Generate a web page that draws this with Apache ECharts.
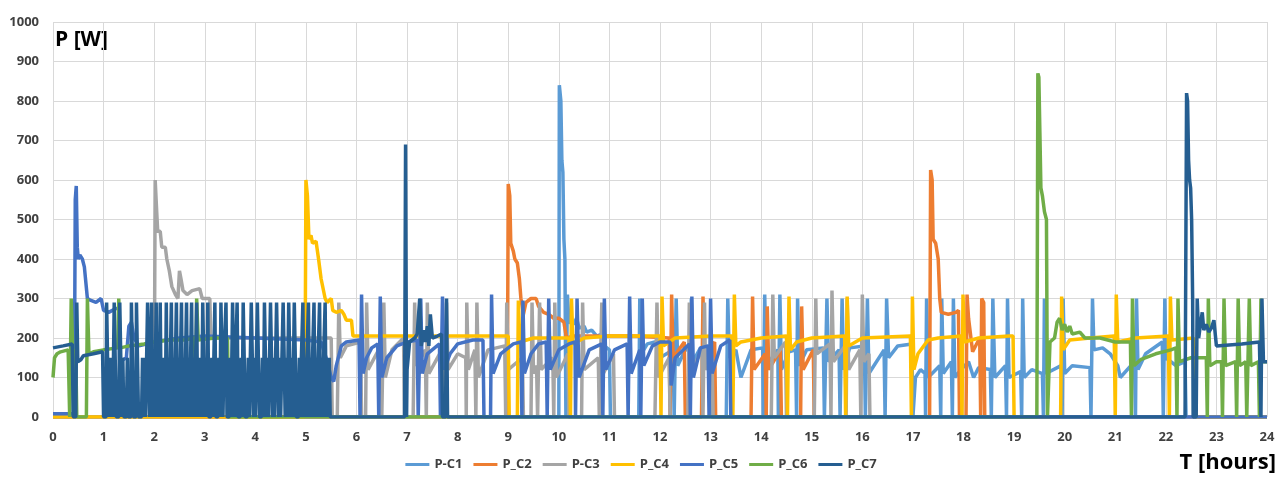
<!DOCTYPE html>
<html>
<head>
<meta charset="utf-8">
<script src="https://cdn.jsdelivr.net/npm/echarts@6/dist/echarts.min.js"></script>
<style>
  html, body { margin: 0; padding: 0; background: #fff; }
  #chart { width: 1282px; height: 481px; }
</style>
</head>
<body>
<div id="chart"></div>
<script>
// [time in hours, power in W] for each circuit
const pC1 = [[0,0],[10.0,0],[10.01,840],[10.04,800],[10.06,650],[10.08,620],[10.1,450],[10.12,400],[10.14,0],[10.16,0],[10.17,310],[10.2,240],[10.3,235],[10.35,250],[10.4,225],[10.5,230],[10.55,215],[10.65,220],[10.75,205],[10.85,210],[10.9,180],[11.0,170],[11.02,0],[11.58,0],[11.6,300],[11.63,160],[11.75,185],[11.9,190],[12.0,150],[12.26,170],[12.28,0],[12.32,300],[12.35,130],[12.5,170],[12.57,170],[12.58,0],[12.62,300],[12.65,140],[12.8,175],[13.0,180],[13.02,0],[13.31,0],[13.34,300],[13.37,150],[13.5,170],[13.6,100],[13.8,170],[14.03,175],[14.04,0],[14.07,310],[14.1,130],[14.33,170],[14.34,0],[14.37,310],[14.4,120],[14.55,165],[14.68,170],[14.7,0],[14.72,300],[14.75,130],[14.9,170],[15.23,175],[15.25,0],[15.3,300],[15.33,140],[15.54,170],[15.56,0],[15.6,300],[15.63,120],[15.75,175],[16.04,180],[16.06,0],[16.1,300],[16.13,110],[16.43,170],[16.45,0],[16.48,300],[16.52,150],[16.7,180],[16.98,185],[17.0,0],[17.05,100],[17.15,120],[17.24,110],[17.25,0],[17.27,300],[17.3,100],[17.53,130],[17.55,0],[17.57,300],[17.6,110],[17.76,140],[17.78,0],[17.8,300],[17.83,100],[17.95,120],[18.1,140],[18.2,100],[18.3,125],[18.53,120],[18.55,0],[18.58,300],[18.62,100],[18.83,130],[18.85,0],[18.87,300],[18.9,100],[19.13,115],[19.15,0],[19.17,300],[19.2,100],[19.35,120],[19.56,110],[19.58,0],[19.6,300],[19.63,110],[19.93,130],[19.95,0],[19.97,300],[20.0,110],[20.15,130],[20.5,125],[20.52,0],[20.55,300],[20.58,170],[20.75,175],[20.9,160],[21.05,130],[21.1,100],[21.38,140],[21.4,0],[21.42,300],[21.45,120],[21.6,160],[21.93,190],[21.95,0],[21.98,300],[22.0,150],[22.2,130],[22.38,140],[22.4,0],[24,0]];

const pC2 = [[0,0],[8.98,0],[9.0,590],[9.03,560],[9.05,440],[9.1,420],[9.13,400],[9.18,390],[9.22,350],[9.25,300],[9.3,260],[9.35,290],[9.45,300],[9.55,300],[9.6,280],[9.7,265],[9.8,260],[9.9,250],[10.0,250],[10.1,240],[10.15,200],[10.3,205],[11.0,205],[11.5,205],[12.18,200],[12.2,0],[12.23,310],[12.26,150],[12.48,190],[12.5,0],[12.82,0],[12.85,305],[12.88,150],[13.08,190],[13.1,0],[13.8,0],[13.83,305],[13.86,120],[14.08,160],[14.1,0],[14.12,280],[14.15,120],[14.38,170],[14.4,0],[14.78,0],[14.8,280],[14.83,120],[15.03,170],[15.05,0],[17.33,0],[17.35,625],[17.38,600],[17.4,450],[17.45,440],[17.5,400],[17.53,300],[17.56,265],[17.7,260],[17.85,265],[17.9,270],[17.92,0],[18.05,0],[18.07,310],[18.1,250],[18.18,165],[18.32,200],[18.34,0],[18.36,300],[18.4,290],[18.42,0],[24,0]];

const pC3 = [[0,0],[2.0,0],[2.02,600],[2.05,520],[2.07,470],[2.12,470],[2.15,430],[2.22,430],[2.25,400],[2.3,370],[2.35,330],[2.42,310],[2.47,300],[2.5,370],[2.53,350],[2.57,320],[2.65,310],[2.75,320],[2.9,325],[2.95,300],[3.1,300],[3.12,200],[4.0,200],[5.0,200],[5.5,200],[5.52,0],[5.62,0],[5.65,290],[5.68,150],[5.8,180],[6.08,190],[6.1,0],[6.18,0],[6.2,290],[6.23,120],[6.48,180],[6.5,0],[6.54,290],[6.57,100],[6.7,170],[6.93,200],[6.95,0],[7.12,0],[7.15,290],[7.18,130],[7.36,170],[7.38,0],[7.4,290],[7.43,110],[7.73,180],[7.75,0],[7.78,290],[7.81,120],[8.0,160],[8.16,150],[8.17,0],[8.18,290],[8.21,120],[8.34,170],[8.36,0],[8.38,290],[8.41,100],[8.6,170],[8.93,180],[8.95,0],[8.97,290],[9.0,120],[9.28,150],[9.3,0],[9.45,0],[9.47,290],[9.5,110],[9.56,130],[9.58,0],[9.62,290],[9.65,120],[9.88,150],[9.9,0],[9.92,290],[9.95,100],[10.18,160],[10.2,0],[10.45,0],[10.47,290],[10.5,120],[10.78,150],[10.8,0],[10.83,0],[10.85,290],[10.88,110],[11.08,160],[11.1,0],[11.9,0],[11.94,290],[11.97,100],[12.18,150],[12.2,0],[12.55,0],[12.58,290],[12.6,110],[12.83,170],[12.85,0],[12.88,290],[12.9,120],[13.03,150],[13.05,0],[14.2,0],[14.23,310],[14.26,150],[14.48,190],[14.5,0],[15.05,0],[15.08,300],[15.1,160],[15.36,185],[15.38,0],[15.4,320],[15.43,140],[15.66,180],[15.68,0],[15.7,300],[15.73,120],[15.95,170],[15.97,0],[16.0,310],[16.03,140],[16.13,160],[16.15,0],[24,0]];

const pC4 = [[0,0],[4.97,0],[4.99,300],[5.0,600],[5.03,560],[5.06,450],[5.1,460],[5.13,440],[5.2,445],[5.25,400],[5.3,350],[5.38,300],[5.42,290],[5.5,300],[5.53,270],[5.6,265],[5.7,270],[5.75,260],[5.8,245],[5.9,245],[5.93,205],[6.5,205],[7.0,205],[8.0,205],[9.0,205],[9.02,0],[9.18,0],[9.2,295],[9.23,190],[9.5,200],[10.2,200],[10.23,0],[10.25,300],[10.28,185],[10.5,200],[11.0,205],[12.0,205],[12.02,0],[12.04,305],[12.07,180],[12.3,200],[13.0,205],[13.42,205],[13.44,0],[13.47,310],[13.5,180],[13.6,190],[14.0,200],[14.5,205],[14.52,0],[14.55,305],[14.58,170],[14.7,190],[15.0,200],[15.65,205],[15.67,0],[15.7,305],[15.73,180],[16.0,200],[16.95,205],[16.97,0],[16.99,305],[17.02,120],[17.1,160],[17.3,195],[17.5,200],[17.95,205],[17.97,0],[17.99,310],[18.02,190],[18.3,200],[18.9,205],[18.98,205],[19.0,0],[19.92,0],[19.94,305],[19.97,170],[20.1,195],[20.5,200],[20.98,205],[21.0,0],[21.02,310],[21.05,190],[21.4,200],[22.05,205],[22.07,0],[22.09,305],[22.12,195],[22.55,200],[22.6,0],[24,0]];

const pC5 = [[0,8],[0.4,8],[0.42,0],[0.44,550],[0.46,585],[0.48,430],[0.5,400],[0.53,410],[0.58,400],[0.62,380],[0.68,300],[0.75,295],[0.85,290],[0.95,300],[1.0,270],[1.1,265],[1.25,275],[1.3,275],[1.32,140],[1.45,150],[1.5,230],[1.55,240],[1.6,200],[1.7,180],[2.0,190],[2.5,200],[3.0,205],[4.0,200],[5.0,195],[5.3,190],[5.4,150],[5.5,100],[5.55,90],[5.6,130],[5.7,180],[5.8,190],[6.05,195],[6.07,0],[6.1,310],[6.13,110],[6.2,150],[6.3,175],[6.42,185],[6.44,0],[6.47,305],[6.5,100],[6.6,150],[6.8,180],[7.0,190],[7.2,195],[7.22,0],[7.27,300],[7.3,110],[7.4,160],[7.64,185],[7.66,0],[7.7,305],[7.73,120],[7.85,160],[8.0,185],[8.3,195],[8.5,195],[8.52,0],[8.65,0],[8.67,310],[8.7,110],[8.85,160],[9.1,185],[9.25,190],[9.27,0],[9.29,295],[9.32,110],[9.45,160],[9.6,185],[9.75,190],[9.77,0],[9.8,300],[9.83,120],[10.0,170],[10.2,185],[10.32,190],[10.33,0],[10.36,300],[10.4,100],[10.6,170],[10.85,185],[10.87,0],[10.9,300],[10.93,120],[11.1,170],[11.35,185],[11.37,0],[11.4,305],[11.43,110],[11.6,170],[11.62,0],[11.65,300],[11.68,130],[11.85,180],[12.0,190],[12.2,190],[12.22,80],[12.3,150],[12.58,185],[12.6,0],[12.63,305],[12.66,100],[12.8,175],[12.95,180],[12.97,0],[13.0,300],[13.03,110],[13.2,180],[13.38,195],[13.4,0],[24,0]];

const pC6 = [[0,100],[0.03,150],[0.08,160],[0.15,165],[0.3,170],[0.33,0],[0.35,0],[0.36,300],[0.39,170],[0.45,165],[0.47,0],[0.66,0],[0.68,300],[0.71,160],[0.8,165],[1.0,170],[1.28,175],[1.3,300],[1.33,175],[1.5,180],[1.8,185],[2.0,190],[2.3,195],[2.6,195],[2.8,200],[2.82,0],[2.84,300],[2.87,195],[3.2,200],[3.45,200],[3.47,0],[19.45,0],[19.47,870],[19.49,860],[19.51,720],[19.53,580],[19.56,560],[19.6,520],[19.64,500],[19.66,0],[19.69,0],[19.71,190],[19.8,200],[19.85,240],[19.9,250],[19.95,220],[20.0,235],[20.05,215],[20.1,230],[20.15,210],[20.3,215],[20.4,200],[20.7,200],[21.0,190],[21.3,190],[21.32,0],[21.34,300],[21.37,130],[21.5,145],[21.8,160],[22.1,170],[22.2,175],[22.22,0],[22.24,300],[22.27,140],[22.5,150],[22.8,150],[22.82,0],[22.84,300],[22.87,130],[23.0,140],[23.1,140],[23.12,0],[23.15,300],[23.18,130],[23.38,140],[23.4,0],[23.43,300],[23.46,130],[23.58,140],[23.6,0],[23.65,300],[23.68,130],[23.83,140],[23.85,0],[23.88,300],[23.91,140],[24,140]];

const pC7 = [[0,175],[0.2,180],[0.38,185],[0.4,0],[0.45,0],[0.47,290],[0.49,140],[0.55,145],[0.6,155],[0.8,160],[0.98,165],[1.0,0],[1.05,0],[1.06,290],[1.08,140],[1.1,0],[1.12,150],[1.14,0],[1.16,150],[1.18,0],[1.21,290],[1.23,145],[1.25,0],[1.3,0],[1.32,290],[1.34,150],[1.36,0],[1.38,150],[1.4,0],[1.45,0],[1.47,150],[1.49,0],[1.54,0],[1.55,290],[1.57,150],[1.59,0],[1.64,0],[1.65,290],[1.67,150],[1.69,0],[1.75,0],[1.77,150],[1.79,0],[1.81,150],[1.83,0],[1.87,290],[1.89,140],[1.91,0],[1.93,150],[1.95,290],[1.97,0],[1.99,150],[2.01,0],[2.04,290],[2.06,0],[2.08,150],[2.1,0],[2.12,290],[2.14,0],[2.16,150],[2.18,0],[2.2,150],[2.22,0],[2.24,290],[2.26,0],[2.28,150],[2.3,0],[2.32,150],[2.34,290],[2.36,0],[2.38,150],[2.4,0],[2.42,150],[2.44,290],[2.46,0],[2.48,150],[2.5,0],[2.52,150],[2.54,290],[2.56,0],[2.58,150],[2.6,0],[2.62,150],[2.64,290],[2.66,0],[2.68,150],[2.7,0],[2.72,150],[2.74,290],[2.76,0],[2.78,150],[2.8,0],[2.82,150],[2.84,290],[2.86,0],[2.88,150],[2.9,0],[2.92,150],[2.94,0],[2.96,290],[2.98,150],[3.0,0],[3.02,150],[3.04,0],[3.06,290],[3.08,0],[3.12,0],[3.14,150],[3.16,0],[3.18,150],[3.2,290],[3.22,0],[3.26,0],[3.28,150],[3.3,0],[3.32,290],[3.34,150],[3.36,0],[3.38,150],[3.42,290],[3.44,0],[3.48,0],[3.5,150],[3.52,0],[3.55,290],[3.57,150],[3.59,0],[3.61,150],[3.64,290],[3.66,0],[3.7,0],[3.72,150],[3.74,0],[3.76,290],[3.78,150],[3.8,0],[3.84,0],[3.86,150],[3.88,0],[3.92,290],[3.94,150],[3.96,0],[3.98,150],[4.0,0],[4.04,290],[4.06,150],[4.08,0],[4.12,0],[4.14,150],[4.16,0],[4.18,290],[4.2,150],[4.22,0],[4.24,150],[4.26,0],[4.3,290],[4.32,150],[4.34,0],[4.36,150],[4.38,0],[4.42,290],[4.44,150],[4.46,0],[4.48,150],[4.5,0],[4.55,290],[4.57,150],[4.59,0],[4.61,150],[4.63,0],[4.66,290],[4.68,150],[4.7,0],[4.72,150],[4.74,0],[4.77,290],[4.79,150],[4.81,0],[4.85,0],[4.87,150],[4.89,0],[4.91,150],[4.94,290],[4.96,0],[4.98,150],[5.0,0],[5.02,150],[5.05,290],[5.07,0],[5.09,150],[5.11,0],[5.13,150],[5.16,290],[5.18,0],[5.2,150],[5.22,0],[5.24,150],[5.27,290],[5.29,0],[5.31,150],[5.33,0],[5.35,150],[5.38,290],[5.4,0],[5.42,150],[5.44,0],[5.46,150],[5.48,0],[6.95,0],[6.97,690],[6.99,0],[7.0,120],[7.05,190],[7.15,200],[7.2,210],[7.25,300],[7.28,180],[7.33,220],[7.36,190],[7.4,230],[7.43,180],[7.46,260],[7.5,200],[7.6,205],[7.68,210],[7.7,0],[7.76,0],[7.78,300],[7.8,0],[22.38,0],[22.41,820],[22.43,800],[22.45,650],[22.47,600],[22.49,580],[22.51,500],[22.53,300],[22.54,0],[22.6,0],[22.62,300],[22.65,200],[22.68,230],[22.72,265],[22.75,220],[22.8,235],[22.85,215],[22.9,225],[22.95,245],[23.0,180],[23.5,185],[23.85,190],[23.88,0],[23.9,300],[23.93,140],[24,140]];

const names = ['P-C1', 'P_C2', 'P-C3', 'P_C4', 'P_C5', 'P_C6', 'P_C7'];
const seriesData = [pC1, pC2, pC3, pC4, pC5, pC6, pC7];
const COLORS = ['#5b9bd5', '#ed7d31', '#a5a5a5', '#ffc000', '#4472c4', '#70ad47', '#255e91'];

const xTicks = { min: 0, max: 24, step: 1 };
const yTicks = { min: 0, max: 1000, step: 100 };

const chart = echarts.init(document.getElementById('chart'));
const labelStyle = { color: '#404040', fontSize: 13, fontWeight: 'bold', fontFamily: 'Open Sans' };

chart.setOption({
  backgroundColor: '#fff',
  animation: false,
  color: COLORS,
  grid: { left: 53, right: 15, top: 22, bottom: 64 },
  legend: {
    data: names,
    bottom: 5,
    left: 'center',
    icon: 'rect',
    itemWidth: 24,
    itemHeight: 3,
    itemGap: 11,
    textStyle: { color: '#404040', fontSize: 13, fontWeight: 'bold', fontFamily: 'Open Sans' },
  },
  xAxis: {
    type: 'value',
    min: xTicks.min,
    max: xTicks.max,
    interval: xTicks.step,
    axisLine: { show: false },
    axisTick: { show: false },
    axisLabel: { ...labelStyle, margin: 14 },
    splitLine: { lineStyle: { color: '#d9d9d9', width: 1 } },
  },
  yAxis: {
    type: 'value',
    min: yTicks.min,
    max: yTicks.max,
    interval: yTicks.step,
    axisLine: { show: false },
    axisTick: { show: false },
    axisLabel: { ...labelStyle, margin: 14, formatter: (v) => String(v) },
    splitLine: { lineStyle: { color: '#d9d9d9', width: 1 } },
  },
  graphic: [
    { type: 'text', left: 55, top: 30, style: { text: 'P [W]', font: 'bold 21px "Open Sans"', fill: '#000' } },
    { type: 'text', right: 6, top: 452, style: { text: 'T [hours]', font: 'bold 22px "Open Sans"', fill: '#000' } },
  ],
  series: seriesData.map((d, i) => ({
    name: names[i],
    type: 'line',
    data: d,
    symbol: 'none',
    showSymbol: false,
    lineStyle: { width: 3.5, color: COLORS[i], join: 'bevel' },
    itemStyle: { color: COLORS[i] },
  })),
});
</script>
</body>
</html>
